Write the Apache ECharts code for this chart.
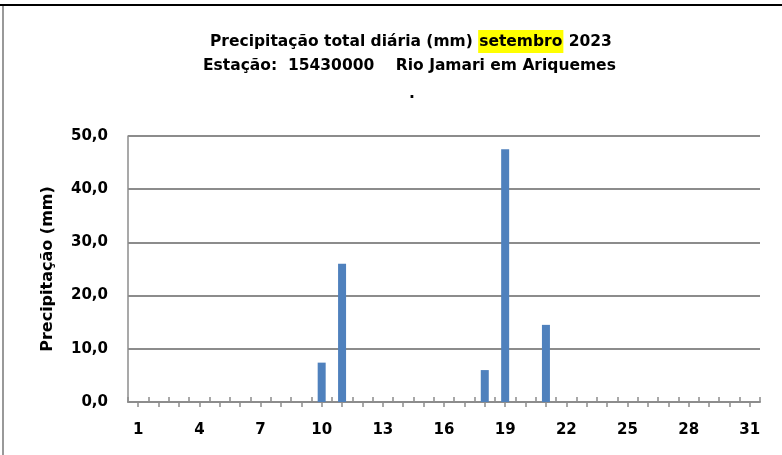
<!DOCTYPE html>
<html>
<head>
<meta charset="utf-8">
<script src="https://cdn.jsdelivr.net/npm/echarts@6/dist/echarts.min.js"></script>
<style>
  html, body { margin: 0; padding: 0; background: #fff; }
  #chart { width: 782px; height: 455px; }
</style>
</head>
<body>
<div id="chart"></div>
<script>
// dias do mês (setembro 2023)
const days = []
for (let d = 1; d <= 31; d++) days.push(String(d))

// precipitação diária (mm)
const rain = [
  0, 0, 0, 0, 0, 0, 0, 0, 0, 7.4,
  26.0, 0, 0, 0, 0, 0, 0, 6.0, 47.5, 0,
  14.5, 0, 0, 0, 0, 0, 0, 0, 0, 0,
  0
]

const yTicks = [0, 10, 20, 30, 40, 50]

const font = 'DejaVu Sans'
const gray = '#8c8c8c'

const chart = echarts.init(document.getElementById('chart'))

chart.setOption({
  animation: false,
  title: [{
    left: 205,
    top: 25,
    text: '{a|Precipitação total diária (mm) }{h|setembro}{a| 2023}',
    textStyle: {
      rich: {
        a: { fontFamily: font, fontWeight: 'bold', fontSize: 15.5, color: '#000' },
        h: { fontFamily: font, fontWeight: 'bold', fontSize: 15.5, color: '#000', backgroundColor: '#ffff00', padding: [4, 1, 3, 1] }
      }
    }
  }, {
    left: 198,
    top: 53,
    text: 'Estação:  15430000    Rio Jamari em Ariquemes',
    textStyle: { fontFamily: font, fontWeight: 'bold', fontSize: 15.5, color: '#000' }
  }, {
    left: 404,
    top: 81,
    text: '.',
    textStyle: { fontFamily: font, fontWeight: 'bold', fontSize: 15.5, color: '#000' }
  }],
  graphic: [
    { type: 'line', shape: { x1: 0, y1: 5, x2: 782, y2: 5 }, style: { stroke: '#000', lineWidth: 2 } },
    { type: 'line', shape: { x1: 3, y1: 6, x2: 3, y2: 455 }, style: { stroke: '#999', lineWidth: 2 } }
  ],
  grid: { left: 128, right: 22, top: 136, bottom: 53 },
  xAxis: [{
    type: 'category',
    data: days,
    position: 'bottom',
    axisLine: { show: true, lineStyle: { color: gray, width: 2 } },
    axisTick: { show: true, inside: true, length: 5, interval: 0, lineStyle: { color: gray, width: 1.5 } },
    axisLabel: {
      interval: 2, margin: 21,
      fontFamily: font, fontWeight: 'bold', fontSize: 15, color: '#000'
    }
  }, {
    type: 'category',
    data: days,
    position: 'bottom',
    axisLine: { show: false },
    axisTick: { show: true, alignWithLabel: true, length: 5, interval: 0, lineStyle: { color: gray, width: 1.5 } },
    axisLabel: { show: false }
  }],
  yAxis: {
    type: 'value',
    min: yTicks[0],
    max: yTicks[yTicks.length - 1],
    interval: 10,
    name: 'Precipitação (mm)',
    nameLocation: 'middle',
    nameGap: 72,
    nameTextStyle: { fontFamily: font, fontWeight: 'bold', fontSize: 16, color: '#000' },
    axisLine: { show: true, lineStyle: { color: gray, width: 1.5 } },
    axisTick: { show: false },
    splitLine: { lineStyle: { color: gray, width: 2 } },
    axisLabel: {
      margin: 20,
      formatter: v => v.toFixed(1).replace('.', ','),
      fontFamily: font, fontWeight: 'bold', fontSize: 15, color: '#000'
    }
  },
  series: [{
    type: 'bar',
    xAxisIndex: 0,
    data: rain,
    barWidth: 8,
    itemStyle: { color: '#4f81bd' }
  }]
})
</script>
</body>
</html>
